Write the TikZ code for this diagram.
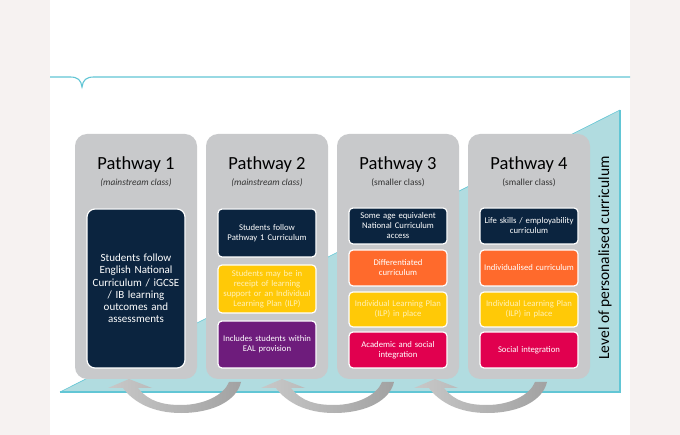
\documentclass[tikz,border=0pt]{standalone}
\usepackage{fontspec}
\setmainfont{Carlito}
\definecolor{sidebg}{HTML}{F6F2F1}
\definecolor{lineblue}{HTML}{62C6D5}
\definecolor{tealfill}{HTML}{B1DCE0}
\definecolor{pgray}{HTML}{C8C9CB}
\definecolor{navy}{HTML}{0B243F}
\definecolor{yel}{HTML}{FFC907}
\definecolor{yeltext}{HTML}{FFF1B8}
\definecolor{orng}{HTML}{FF6A2C}
\definecolor{crim}{HTML}{E1004F}
\definecolor{purp}{HTML}{6E1C7C}
\definecolor{argA}{HTML}{C8C8C8}
\definecolor{argB}{HTML}{A2A2A2}
\begin{document}
\begin{tikzpicture}[x=1pt,y=-1pt,
  pathbox/.style={fill=pgray, rounded corners=12pt, minimum width=122pt, minimum height=245pt, inner sep=0pt},
  titletext/.style={font=\fontsize{18.5}{20}\selectfont, text=black, inner sep=0pt},
  subtext/.style={font=\fontsize{9.3}{10}\selectfont, text=black!80, inner sep=0pt},
  inbox/.style={draw=white, line width=1.2pt, rounded corners=4pt, minimum width=98pt, inner sep=1pt, align=center, text width=96pt, font=\fontsize{8.7}{10}\selectfont, text=white},
  bignavy/.style={inbox, fill=navy, rounded corners=8pt, font=\fontsize{11}{12.2}\selectfont},
  navybox/.style={inbox, fill=navy},
  yelbox/.style={inbox, fill=yel, text=yeltext},
  orbox/.style={inbox, fill=orng},
  crbox/.style={inbox, fill=crim},
  pubox/.style={inbox, fill=purp},
  bigarrow/.style={left color=argA, right color=argB, draw=none}]
\useasboundingbox (0,0) rectangle (680,435);
% page and side strips
\fill[white] (0,0) rectangle (680,435);
\fill[sidebg] (0,0) rectangle (50,435);
\fill[sidebg] (630,0) rectangle (680,435);
% top line with notch
\draw[lineblue, line width=1.1pt] (50,77) -- (70,77) .. controls (78,77) and (81,80) .. (82,87) .. controls (83,80) and (86,77) .. (94,77) -- (630,77);
% triangle
\fill[tealfill] (60,392) -- (620,110) -- (620,392) -- cycle;
\draw[lineblue, line width=0.6pt] (60,392) -- (620,110);
\draw[lineblue, line width=1.1pt] (60,392) -- (620,392) -- (620,110);
% arrows
\foreach \xh in {129,282,435}{
  \shade[bigarrow] (\xh,379) -- (\xh+23,388) -- (\xh+9,388) .. controls (\xh+20,402) and (\xh+35,405) .. (\xh+52,405) .. controls (\xh+75,405) and (\xh+95,395) .. (\xh+100,382) -- (\xh+112,382) .. controls (\xh+108,400) and (\xh+85,413) .. (\xh+52,413) .. controls (\xh+25,413) and (\xh+5,403) .. (\xh-6,388) -- (\xh-21,388) -- cycle;
}
% pathway boxes
\node[pathbox] (p1) at (136,256.5) {};
\node[pathbox] (p2) at (267,256.5) {};
\node[pathbox] (p3) at (398,256.5) {};
\node[pathbox] (p4) at (529,256.5) {};
% titles
\node[titletext] (t1) at (136,165) {Pathway 1};
\node[titletext] (t2) at (267,165) {Pathway 2};
\node[titletext] (t3) at (398,165) {Pathway 3};
\node[titletext] (t4) at (529,165) {Pathway 4};
\node[subtext] (s1) at (136,182.5) {\itshape (mainstream class)};
\node[subtext] (s2) at (267,182.5) {\itshape (mainstream class)};
\node[subtext] (s3) at (398,182.5) {(smaller class)};
\node[subtext] (s4) at (529,182.5) {(smaller class)};
% pathway 1
\node[bignavy, minimum height=159pt] (a1) at (136,288.5) {Students follow\\English National\\Curriculum / iGCSE\\/ IB learning\\outcomes and\\assessments};
% pathway 2
\node[navybox, minimum height=48pt] (b1) at (267,233) {Students follow\\Pathway 1 Curriculum};
\node[yelbox, minimum height=48pt] (b2) at (267,289) {Students may be in\\receipt of learning\\support or an Individual\\Learning Plan (ILP)};
\node[pubox, minimum height=47pt] (b3) at (267,344.5) {Includes students within\\EAL provision};
% pathway 3
\node[navybox, minimum height=36pt] (c1) at (398,226) {Some age equivalent\\National Curriculum\\access};
\node[orbox, minimum height=36pt] (c2) at (398,268) {Differentiated\\curriculum};
\node[yelbox, minimum height=35pt] (c3) at (398,309.5) {Individual Learning Plan\\(ILP) in place};
\node[crbox, minimum height=36pt] (c4) at (398,350) {Academic and social\\integration};
% pathway 4
\node[navybox, minimum height=36pt] (d1) at (529,226) {Life skills / employability\\curriculum};
\node[orbox, minimum height=36pt] (d2) at (529,268) {Individualised curriculum};
\node[yelbox, minimum height=35pt] (d3) at (529,309.5) {Individual Learning Plan\\(ILP) in place};
\node[crbox, minimum height=36pt] (d4) at (529,350) {Social integration};
% vertical label
\node[rotate=90, font=\fontsize{15.5}{17}\selectfont, text=black, inner sep=0pt] (lvl) at (605,258) {Level of personalised curriculum};
\end{tikzpicture}
\end{document}
